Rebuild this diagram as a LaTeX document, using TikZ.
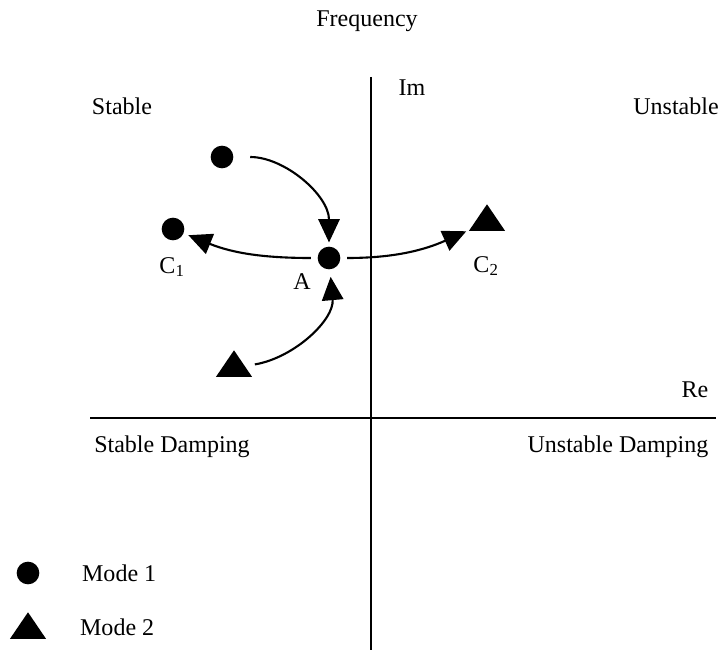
\documentclass[tikz,border=0pt]{standalone}
\usepackage{fontspec}
\setmainfont{Liberation Serif}
\usetikzlibrary{shapes.geometric, arrows.meta, positioning}

\begin{document}
\begin{tikzpicture}[
		x=0.03cm, y=-0.03cm,
		font=\fontsize{20.5}{24}\selectfont,
		mode1/.style={
			circle, 
			fill=black, 
			inner sep=0pt, 
			minimum size=0.68cm
		},
		mode2/.style={
			regular polygon, 
			regular polygon sides=3, 
			fill=black, 
			inner sep=0pt, 
			minimum size=1.25cm,
			yscale=0.85
		},
		axis/.style={
			line width=1.6pt
		},
		arrow/.style={
			-{Triangle[length=0.7cm, width=0.64cm]}, 
			line width=1.8pt
		}
		]
		
		\useasboundingbox (0,0) rectangle (723,650);
		
		% Axes
		\draw [axis] (371,77) -- (371,650);
		\draw [axis] (90,418) -- (716,418);
		
		% Axis and region labels
		\node (freq) at (367,21) {Frequency};
		\node (im) at (412,88) {Im};
		\node (re) at (695,390) {Re};
		\node (stable) at (122,106) {Stable};
		\node (unstable) at (676,106) {Unstable};
		\node (sdamp) at (172,447) {Stable Damping};
		\node (udamp) at (618,447) {Unstable Damping};
		
		% Modes
		\node (start1) [mode1] at (222,157) {};
		\node (c1) [mode1] at (173,229) {};
		\node (a) [mode1] at (329,258) {};
		\node (c2) [mode2] at (487,222) {};
		\node (start2) [mode2] at (234,368) {};
		
		\node (c1lab) at (172,267) {C\textsubscript{1}};
		\node (alab) at (302,282) {A};
		\node (c2lab) at (486,266) {C\textsubscript{2}};
		
		% Paths
		\draw [arrow, shorten <=0.5cm, shorten >=0.12cm] (start1) to[out=0, in=90] (a);
		\draw [arrow, shorten <=0.3cm, shorten >=0.22cm] (start2) to[out=10, in=-85] (a);
		\draw [arrow, shorten <=0.2cm, shorten >=0.15cm] (a) to[out=180, in=-22] (c1);
		\draw [arrow, shorten <=0.2cm, shorten >=0.1cm] (a) to[out=0, in=205] (c2);
		
		% Legend
		\node (key1) [mode1] at (28,573) {};
		\node (key2) [mode2] at (28,630) {};
		\node [anchor=west] at (78,573) {Mode 1};
		\node [anchor=west] at (76,627) {Mode 2};
		
	\end{tikzpicture}
\end{document}
